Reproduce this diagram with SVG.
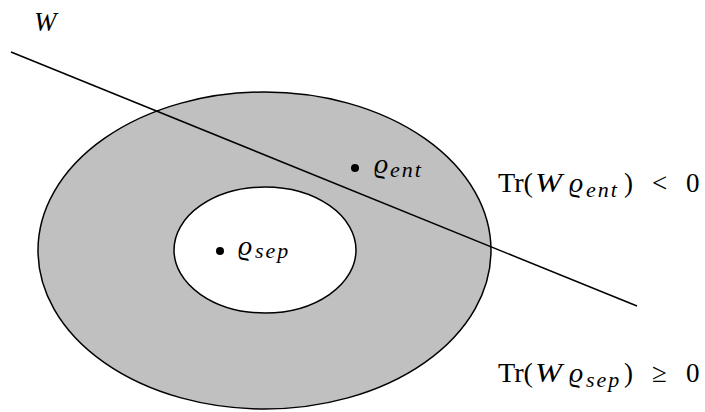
<svg xmlns="http://www.w3.org/2000/svg" width="705" height="412" viewBox="0 0 705 412">
<style>
.t{font-family:"Liberation Serif","DejaVu Serif",serif;font-size:27px;fill:#000}
.i{font-style:italic}
.r{font-style:italic;font-size:28px}
.s{font-style:italic;font-size:22px;letter-spacing:2px}
.dot{fill:#000}
</style>
<rect width="705" height="412" fill="#fff"/>
<g id="outer"><ellipse cx="264.5" cy="250.5" rx="226.5" ry="158.5" fill="#c0c0c0" stroke="#000" stroke-width="1.5"/></g>
<g id="inner"><ellipse cx="265" cy="250" rx="91" ry="63" fill="#fff" stroke="#000" stroke-width="1.5"/></g>
<g id="connectors"><line x1="11" y1="52" x2="637" y2="306" stroke="#000" stroke-width="1.5"/></g>
<g id="W"><text class="t i" x="34" y="31" font-size="30">W</text></g>
<g id="rho-ent"><circle class="dot" cx="355" cy="168" r="4"/><text class="t"><tspan class="r" x="374" y="173">ϱ</tspan><tspan class="s" x="390" y="177">ent</tspan></text></g>
<g id="rho-sep"><circle class="dot" cx="220" cy="251" r="4"/><text class="t"><tspan class="r" x="238" y="255">ϱ</tspan><tspan class="s" x="255" y="258">sep</tspan></text></g>
<g id="cond-ent"><text class="t"><tspan x="498" y="192" textLength="35" lengthAdjust="spacingAndGlyphs">Tr(</tspan><tspan class="i" x="535" y="192" textLength="27" lengthAdjust="spacingAndGlyphs">W</tspan><tspan class="r" x="569" y="192">ϱ</tspan><tspan class="s" x="586" y="197">ent</tspan><tspan x="624" y="192">)</tspan><tspan x="652" y="192">&lt;</tspan><tspan x="686" y="192">0</tspan></text></g>
<g id="cond-sep"><text class="t"><tspan x="498" y="382" textLength="35" lengthAdjust="spacingAndGlyphs">Tr(</tspan><tspan class="i" x="535" y="382" textLength="27" lengthAdjust="spacingAndGlyphs">W</tspan><tspan class="r" x="569" y="382">ϱ</tspan><tspan class="s" x="586" y="387">sep</tspan><tspan x="624" y="382">)</tspan><tspan x="652" y="382">≥</tspan><tspan x="686" y="382">0</tspan></text></g>
</svg>
